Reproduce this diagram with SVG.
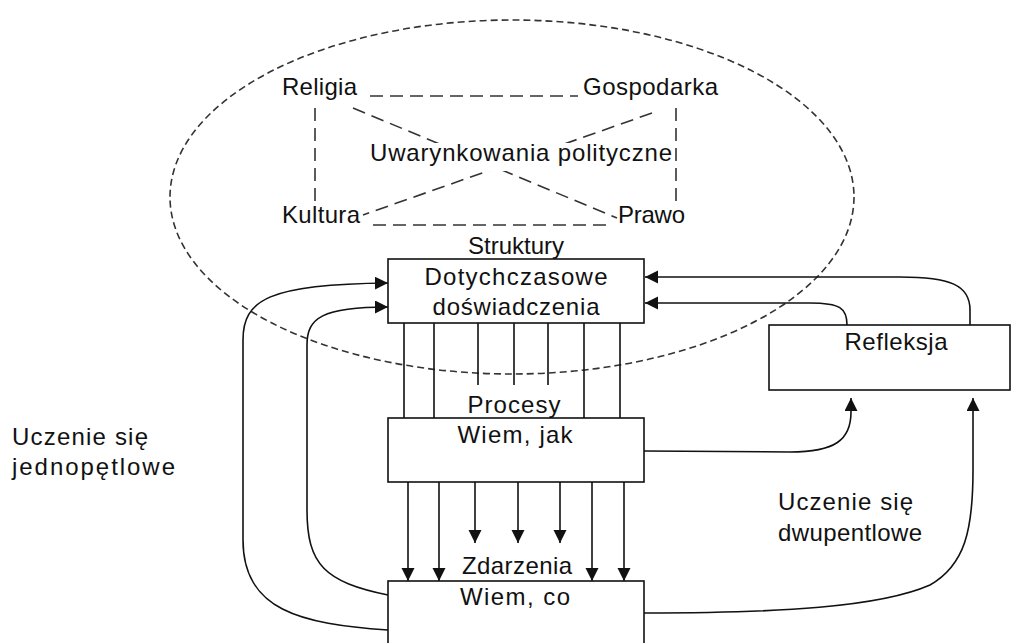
<svg xmlns="http://www.w3.org/2000/svg" width="1018" height="643" viewBox="0 0 1018 643">
  <style>
    .lbl { font-family: "Liberation Sans", Arial, sans-serif; font-size: 24px; fill: #111; }
    .mid { text-anchor: middle; }
    .box { fill: #fff; stroke: #111; stroke-width: 1.6; }
    .dash { fill: none; stroke: #333; stroke-width: 1.6; stroke-dasharray: 13 7; }
    .ring { fill: none; stroke: #333; stroke-width: 1.6; stroke-dasharray: 7 4; }
    .wire { fill: none; stroke: #111; stroke-width: 1.6; }
    .arr { marker-end: url(#head); }
  </style>
  <defs>
    <marker id="head" markerUnits="userSpaceOnUse" markerWidth="14" markerHeight="14" refX="13" refY="6.5" orient="auto">
      <path d="M0,0 L13,6.5 L0,13 z" fill="#111"/>
    </marker>
  </defs>
  <rect width="1018" height="643" fill="#fff"/>

  <!-- structures ring -->
  <g id="structures">
    <ellipse class="ring" cx="512" cy="197" rx="342" ry="177"/>
    <path class="dash" d="M370,96 L578,96"/>
    <path class="dash" d="M315,108 L315,207"/>
    <path class="dash" d="M676,108 L676,207"/>
    <path class="dash" d="M353,108 L617,218"/>
    <path class="dash" d="M652,113 L363,215"/>
    <path class="dash" d="M373,225 L607,225"/>
    <rect x="367" y="143" width="306" height="28" fill="#fff"/>
    <text class="lbl" x="282" y="95" textLength="75" lengthAdjust="spacing">Religia</text>
    <text class="lbl" x="583" y="95" textLength="135" lengthAdjust="spacing">Gospodarka</text>
    <text class="lbl" x="370" y="161" textLength="302" lengthAdjust="spacing">Uwarynkowania polityczne</text>
    <text class="lbl" x="282" y="223" textLength="78" lengthAdjust="spacing">Kultura</text>
    <text class="lbl" x="618" y="223" textLength="67" lengthAdjust="spacing">Prawo</text>
    <text class="lbl mid" x="516" y="254">Struktury</text>
  </g>

  <!-- connectors -->
  <g id="connectors">
    <!-- experience to processes -->
    <path class="wire" d="M404,323 L404,418 M434,323 L434,418 M584,323 L584,418 M620,323 L620,418"/>
    <path class="wire" d="M478,323 L478,385 M514,323 L514,385 M548,323 L548,385"/>
    <!-- processes to events -->
    <path class="wire arr" d="M408,482 L408,581"/>
    <path class="wire arr" d="M439,482 L439,581"/>
    <path class="wire arr" d="M592,482 L592,581"/>
    <path class="wire arr" d="M624,482 L624,581"/>
    <path class="wire arr" d="M475,482 L475,543"/>
    <path class="wire arr" d="M518,482 L518,543"/>
    <path class="wire arr" d="M560,482 L560,543"/>
    <!-- single-loop feedback -->
    <path class="wire arr" d="M388,630 C300,624 243,610 243,540 L243,340 C243,300 268,284 388,283"/>
    <path class="wire arr" d="M388,595 C325,582 307,565 307,510 L307,345 C307,318 322,307 388,307"/>
    <!-- double-loop: into reflection -->
    <path class="wire arr" d="M644,451 L790,452 C835,452 851,440 851,412 L851,398"/>
    <path class="wire arr" d="M644,613 C780,613 880,607 930,585 C965,565 973,530 973,470 L973,398"/>
    <!-- reflection back to experience -->
    <path class="wire arr" d="M970,325 L970,310 C970,285 950,277 900,277 L645,277"/>
    <path class="wire arr" d="M847,325 C847,308 840,303 810,303 L645,303"/>
  </g>

  <g id="experience">
    <rect class="box" x="388" y="259" width="256" height="64"/>
    <text class="lbl mid" x="516" y="285" textLength="183" lengthAdjust="spacing">Dotychczasowe</text>
    <text class="lbl mid" x="516" y="315" textLength="167" lengthAdjust="spacing">doświadczenia</text>
  </g>

  <g id="processes">
    <text class="lbl mid" x="514" y="413" textLength="93" lengthAdjust="spacing">Procesy</text>
    <rect class="box" x="388" y="418" width="256" height="64"/>
    <text class="lbl mid" x="515" y="443" textLength="115" lengthAdjust="spacing">Wiem, jak</text>
  </g>

  <g id="events">
    <text class="lbl mid" x="517" y="574" textLength="110" lengthAdjust="spacing">Zdarzenia</text>
    <rect class="box" x="388" y="581" width="256" height="80"/>
    <text class="lbl mid" x="515" y="605" textLength="110" lengthAdjust="spacing">Wiem, co</text>
  </g>

  <g id="reflection">
    <rect class="box" x="769" y="325" width="241" height="65"/>
    <text class="lbl mid" x="896" y="350" textLength="103" lengthAdjust="spacing">Refleksja</text>
  </g>

  <g id="single-loop-label">
    <text class="lbl" x="12" y="445" textLength="136" lengthAdjust="spacing">Uczenie się</text>
    <text class="lbl" x="12" y="475" textLength="163" lengthAdjust="spacing">jednopętlowe</text>
  </g>

  <g id="double-loop-label">
    <text class="lbl" x="778" y="510" textLength="135" lengthAdjust="spacing">Uczenie się</text>
    <text class="lbl" x="778" y="541" textLength="144" lengthAdjust="spacing">dwupentlowe</text>
  </g>
</svg>
